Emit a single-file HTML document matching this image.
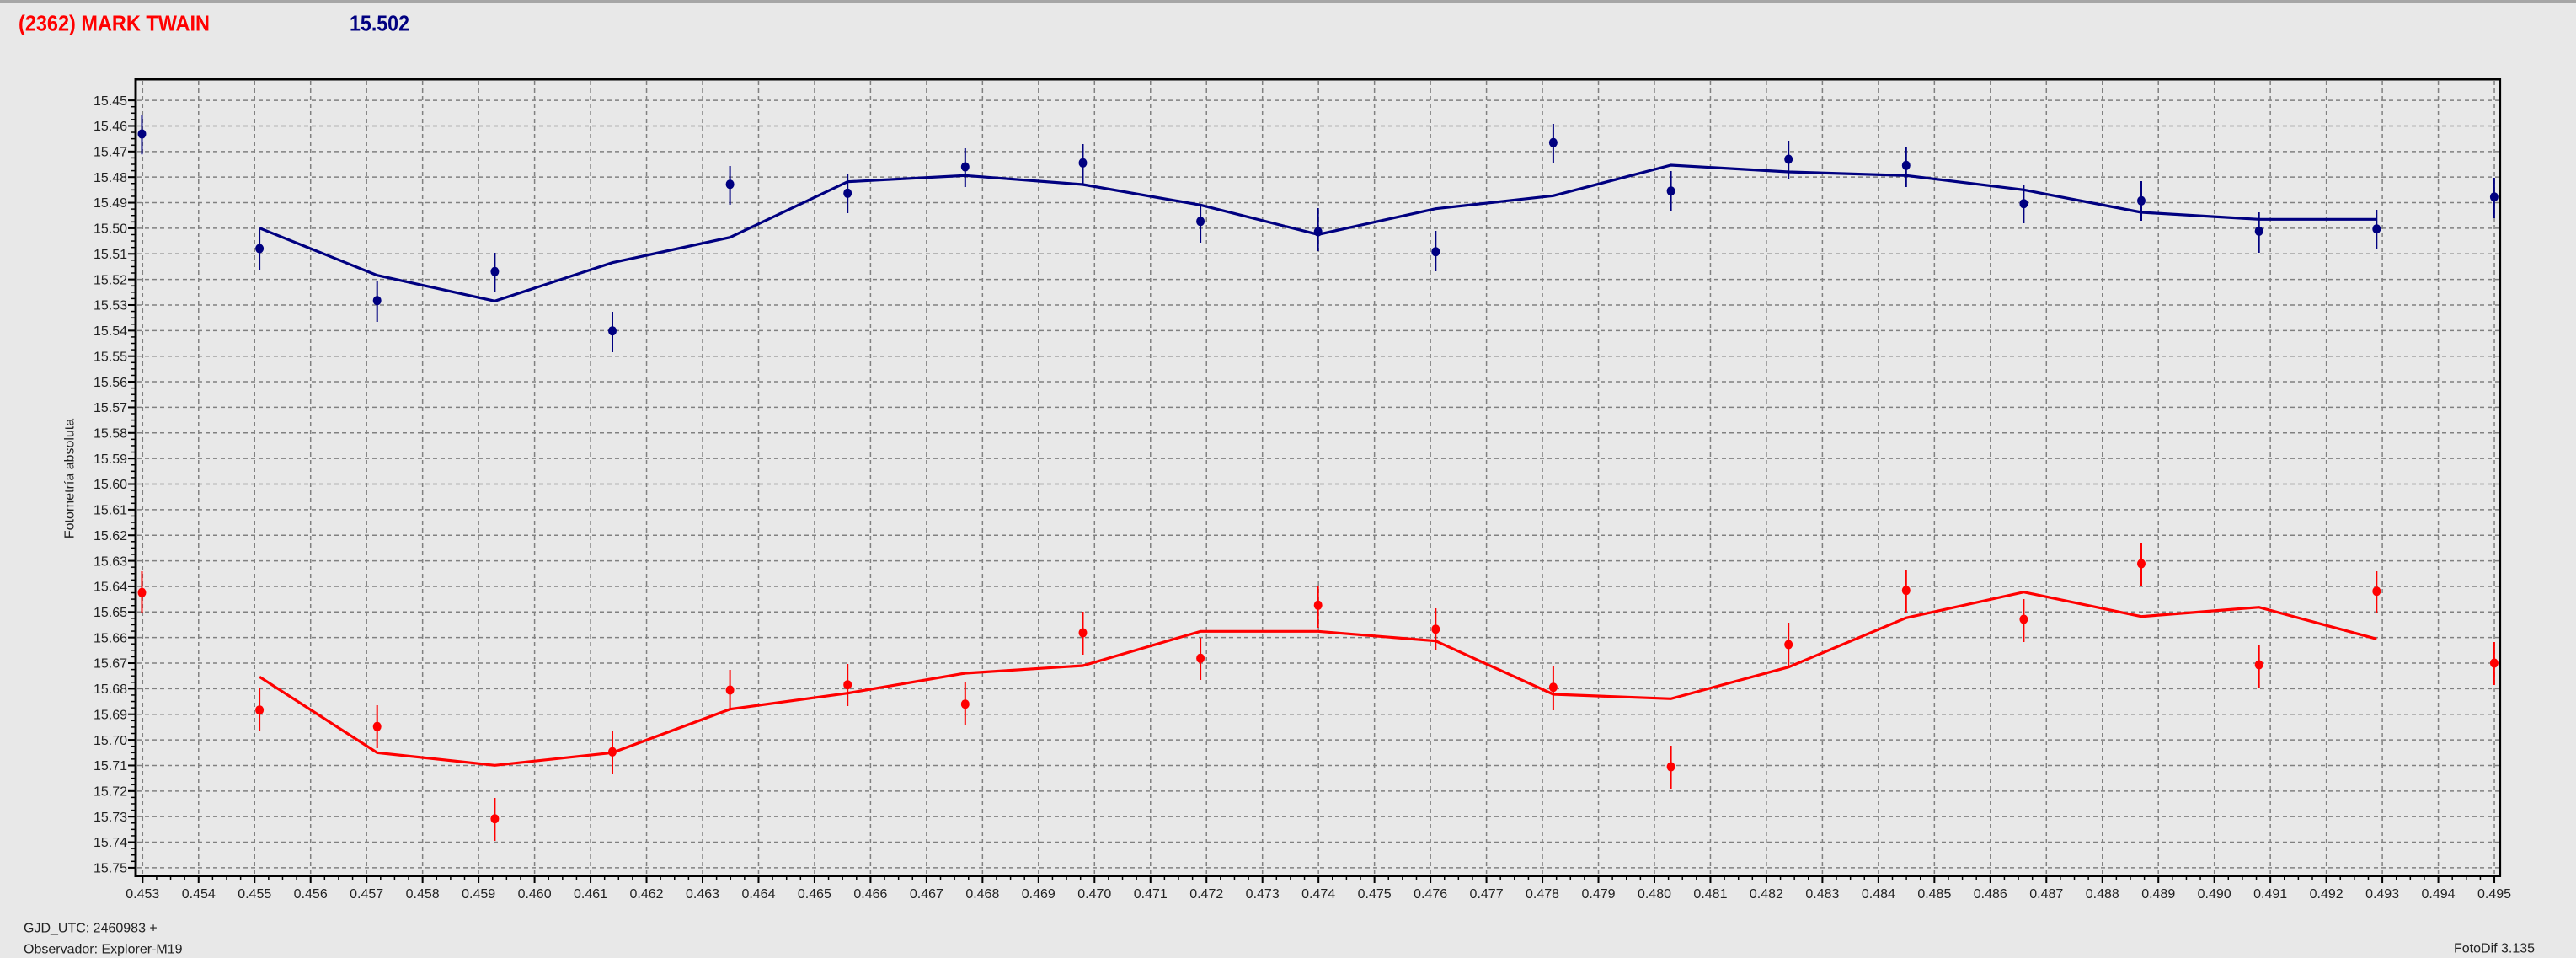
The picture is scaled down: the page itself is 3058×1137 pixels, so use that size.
<!DOCTYPE html>
<html><head><meta charset="utf-8"><style>
html,body{margin:0;padding:0;background:#e8e8e8;}
svg{display:block;}
text{font-family:"Liberation Sans",Arial,sans-serif;}
</style></head><body>
<svg width="3058" height="1137" viewBox="0 0 3058 1137" xmlns="http://www.w3.org/2000/svg">
<defs>
<pattern id="mx" patternUnits="userSpaceOnUse" x="168.55" y="0" width="16.6175" height="1137"><rect x="0" y="0" width="1.5" height="1137" fill="#000"/></pattern>
<pattern id="Mx" patternUnits="userSpaceOnUse" x="168.3" y="0" width="66.47" height="1137"><rect x="0" y="0" width="2" height="1137" fill="#000"/></pattern>
<pattern id="my" patternUnits="userSpaceOnUse" x="0" y="118.35" width="3058" height="7.59"><rect x="0" y="0" width="3058" height="1.5" fill="#000"/></pattern>
<pattern id="My" patternUnits="userSpaceOnUse" x="0" y="118.1" width="3058" height="30.36"><rect x="0" y="0" width="3058" height="2" fill="#000"/></pattern>
</defs>
<rect width="3058" height="1137" fill="#e8e8e8"/>
<rect x="0" y="0" width="3058" height="3" fill="#a6a6a6"/>

<!-- title -->
<text x="22" y="36.5" font-size="25.5" font-weight="bold" fill="#ff0000" textLength="227" lengthAdjust="spacingAndGlyphs">(2362) MARK TWAIN</text>
<text x="415" y="36.5" font-size="25.5" font-weight="bold" fill="#000080" textLength="71" lengthAdjust="spacingAndGlyphs">15.502</text>

<!-- gridlines -->
<path fill="none" stroke="#808080" stroke-width="1.5" stroke-dasharray="5 4" d="M163 119.1H2966M163 149.46H2966M163 179.82H2966M163 210.18H2966M163 240.54H2966M163 270.9H2966M163 301.26H2966M163 331.62H2966M163 361.98H2966M163 392.34H2966M163 422.7H2966M163 453.06H2966M163 483.42H2966M163 513.78H2966M163 544.14H2966M163 574.5H2966M163 604.86H2966M163 635.22H2966M163 665.58H2966M163 695.94H2966M163 726.3H2966M163 756.66H2966M163 787.02H2966M163 817.38H2966M163 847.74H2966M163 878.1H2966M163 908.46H2966M163 938.82H2966M163 969.18H2966M163 999.54H2966M163 1029.9H2966"/>
<path fill="none" stroke="#808080" stroke-width="1.5" stroke-dasharray="5 4" d="M169.3 96V1038M235.77 96V1038M302.24 96V1038M368.71 96V1038M435.18 96V1038M501.65 96V1038M568.12 96V1038M634.59 96V1038M701.06 96V1038M767.53 96V1038M834 96V1038M900.47 96V1038M966.94 96V1038M1033.41 96V1038M1099.88 96V1038M1166.35 96V1038M1232.82 96V1038M1299.29 96V1038M1365.76 96V1038M1432.23 96V1038M1498.7 96V1038M1565.17 96V1038M1631.64 96V1038M1698.11 96V1038M1764.58 96V1038M1831.05 96V1038M1897.52 96V1038M1963.99 96V1038M2030.46 96V1038M2096.93 96V1038M2163.4 96V1038M2229.87 96V1038M2296.34 96V1038M2362.81 96V1038M2429.28 96V1038M2495.75 96V1038M2562.22 96V1038M2628.69 96V1038M2695.16 96V1038M2761.63 96V1038M2828.1 96V1038M2894.57 96V1038M2961.04 96V1038"/>

<!-- ticks -->
<rect x="168" y="1041" width="2796" height="4" fill="url(#mx)"/>
<rect x="168" y="1041" width="2796" height="7" fill="url(#Mx)"/>
<rect x="155" y="118" width="5" height="914" fill="url(#my)"/>
<rect x="152" y="117" width="8" height="915" fill="url(#My)"/>

<!-- frame -->
<rect x="161" y="94.2" width="2806.8" height="945.3" fill="none" stroke="#000" stroke-width="2.6"/>
<rect x="159.6" y="93" width="2.8" height="948" fill="#000"/>
<rect x="159.6" y="1038.2" width="2809.4" height="2.8" fill="#000"/>

<!-- y labels -->
<g font-size="16" fill="#222" text-anchor="end">
<text x="151" y="124.8">15.45</text><text x="151" y="155.2">15.46</text><text x="151" y="185.5">15.47</text><text x="151" y="215.9">15.48</text><text x="151" y="246.2">15.49</text><text x="151" y="276.6">15.50</text><text x="151" y="307">15.51</text><text x="151" y="337.3">15.52</text><text x="151" y="367.7">15.53</text><text x="151" y="398">15.54</text><text x="151" y="428.4">15.55</text><text x="151" y="458.8">15.56</text><text x="151" y="489.1">15.57</text><text x="151" y="519.5">15.58</text><text x="151" y="549.8">15.59</text><text x="151" y="580.2">15.60</text><text x="151" y="610.6">15.61</text><text x="151" y="640.9">15.62</text><text x="151" y="671.3">15.63</text><text x="151" y="701.6">15.64</text><text x="151" y="732">15.65</text><text x="151" y="762.4">15.66</text><text x="151" y="792.7">15.67</text><text x="151" y="823.1">15.68</text><text x="151" y="853.4">15.69</text><text x="151" y="883.8">15.70</text><text x="151" y="914.2">15.71</text><text x="151" y="944.5">15.72</text><text x="151" y="974.9">15.73</text><text x="151" y="1005.2">15.74</text><text x="151" y="1035.6">15.75</text>
</g>

<!-- x labels -->
<g font-size="16" fill="#222" text-anchor="middle">
<text x="169.3" y="1066">0.453</text><text x="235.77" y="1066">0.454</text><text x="302.24" y="1066">0.455</text><text x="368.71" y="1066">0.456</text><text x="435.18" y="1066">0.457</text><text x="501.65" y="1066">0.458</text><text x="568.12" y="1066">0.459</text><text x="634.59" y="1066">0.460</text><text x="701.06" y="1066">0.461</text><text x="767.53" y="1066">0.462</text><text x="834" y="1066">0.463</text><text x="900.47" y="1066">0.464</text><text x="966.94" y="1066">0.465</text><text x="1033.41" y="1066">0.466</text><text x="1099.88" y="1066">0.467</text><text x="1166.35" y="1066">0.468</text><text x="1232.82" y="1066">0.469</text><text x="1299.29" y="1066">0.470</text><text x="1365.76" y="1066">0.471</text><text x="1432.23" y="1066">0.472</text><text x="1498.7" y="1066">0.473</text><text x="1565.17" y="1066">0.474</text><text x="1631.64" y="1066">0.475</text><text x="1698.11" y="1066">0.476</text><text x="1764.58" y="1066">0.477</text><text x="1831.05" y="1066">0.478</text><text x="1897.52" y="1066">0.479</text><text x="1963.99" y="1066">0.480</text><text x="2030.46" y="1066">0.481</text><text x="2096.93" y="1066">0.482</text><text x="2163.4" y="1066">0.483</text><text x="2229.87" y="1066">0.484</text><text x="2296.34" y="1066">0.485</text><text x="2362.81" y="1066">0.486</text><text x="2429.28" y="1066">0.487</text><text x="2495.75" y="1066">0.488</text><text x="2562.22" y="1066">0.489</text><text x="2628.69" y="1066">0.490</text><text x="2695.16" y="1066">0.491</text><text x="2761.63" y="1066">0.492</text><text x="2828.1" y="1066">0.493</text><text x="2894.57" y="1066">0.494</text><text x="2961.04" y="1066">0.495</text>
</g>

<!-- axis title -->
<text x="0" y="0" font-size="16" fill="#222" text-anchor="middle" transform="translate(87.5 568) rotate(-90)">Fotometría absoluta</text>

<!-- blue series -->
<polyline fill="none" stroke="#000080" stroke-width="3.2" stroke-linejoin="miter" points="308.1,270.7 447.7,326.7 587.4,357.3 727,311.7 866.6,281.7 1006.2,215.7 1145.8,208.3 1285.5,219 1425.1,243.3 1564.7,278.3 1704.3,247.7 1843.9,232.3 1983.6,196 2123.2,204 2262.8,208.3 2402.4,225.3 2542,252 2681.7,260.3 2821.3,260.3"/>
<path fill="none" stroke="#000080" stroke-width="2" d="M168.5 136.7V183.3M308.1 271V321M447.7 334V382M587.4 300V346M727 370V418M866.6 197V243M1006.2 206V253M1145.8 176V222M1285.5 171V219M1425.1 242V288M1564.7 247V298M1704.3 274V322M1843.9 147V193M1983.6 203V251M2123.2 167V213M2262.8 174V222M2402.4 219V265M2542 215V262M2681.7 252V300M2821.3 249V295M2960.9 211V259"/>
<g fill="#000080">
<ellipse cx="168.5" cy="159" rx="5" ry="5.5"/><ellipse cx="308.1" cy="295" rx="5" ry="5.5"/><ellipse cx="447.7" cy="356.7" rx="5" ry="5.5"/><ellipse cx="587.4" cy="322.3" rx="5" ry="5.5"/><ellipse cx="727" cy="392.7" rx="5" ry="5.5"/><ellipse cx="866.6" cy="218.7" rx="5" ry="5.5"/><ellipse cx="1006.2" cy="229.3" rx="5" ry="5.5"/><ellipse cx="1145.8" cy="198" rx="5" ry="5.5"/><ellipse cx="1285.5" cy="193.3" rx="5" ry="5.5"/><ellipse cx="1425.1" cy="262.7" rx="5" ry="5.5"/><ellipse cx="1564.7" cy="275" rx="5" ry="5.5"/><ellipse cx="1704.3" cy="298.7" rx="5" ry="5.5"/><ellipse cx="1843.9" cy="169.3" rx="5" ry="5.5"/><ellipse cx="1983.6" cy="226.7" rx="5" ry="5.5"/><ellipse cx="2123.2" cy="189" rx="5" ry="5.5"/><ellipse cx="2262.8" cy="196.3" rx="5" ry="5.5"/><ellipse cx="2402.4" cy="241.7" rx="5" ry="5.5"/><ellipse cx="2542" cy="238.3" rx="5" ry="5.5"/><ellipse cx="2681.7" cy="274.3" rx="5" ry="5.5"/><ellipse cx="2821.3" cy="271.7" rx="5" ry="5.5"/><ellipse cx="2960.9" cy="233.7" rx="5" ry="5.5"/>
</g>

<!-- red series -->
<polyline fill="none" stroke="#ff0000" stroke-width="3.2" stroke-linejoin="miter" points="308.1,803.3 447.7,893.3 587.4,908.3 727,893.3 866.6,841.7 1006.2,822.7 1145.8,799 1285.5,790 1425.1,749.3 1564.7,749.3 1704.3,760.7 1843.9,824 1983.6,829.3 2123.2,791.7 2262.8,733.3 2402.4,702.7 2542,731.7 2681.7,720.7 2821.3,758.3"/>
<path fill="none" stroke="#ff0000" stroke-width="2" d="M168.5 678V728M308.1 817V868M447.7 837V888M587.4 947V998M727 868V919M866.6 795V843M1006.2 788V838M1145.8 810V861M1285.5 726V777M1425.1 757V807M1564.7 695V745M1704.3 722V772M1843.9 791V843M1983.6 885V936M2123.2 739V790M2262.8 676V727M2402.4 711V762M2542 645V696M2681.7 765V816M2821.3 678V727M2960.9 762V813"/>
<g fill="#ff0000">
<ellipse cx="168.5" cy="703.3" rx="5" ry="5.5"/><ellipse cx="308.1" cy="842.7" rx="5" ry="5.5"/><ellipse cx="447.7" cy="862.3" rx="5" ry="5.5"/><ellipse cx="587.4" cy="971.7" rx="5" ry="5.5"/><ellipse cx="727" cy="892.3" rx="5" ry="5.5"/><ellipse cx="866.6" cy="819" rx="5" ry="5.5"/><ellipse cx="1006.2" cy="812.7" rx="5" ry="5.5"/><ellipse cx="1145.8" cy="835.7" rx="5" ry="5.5"/><ellipse cx="1285.5" cy="751" rx="5" ry="5.5"/><ellipse cx="1425.1" cy="781.3" rx="5" ry="5.5"/><ellipse cx="1564.7" cy="718.3" rx="5" ry="5.5"/><ellipse cx="1704.3" cy="746.7" rx="5" ry="5.5"/><ellipse cx="1843.9" cy="815.7" rx="5" ry="5.5"/><ellipse cx="1983.6" cy="910" rx="5" ry="5.5"/><ellipse cx="2123.2" cy="765" rx="5" ry="5.5"/><ellipse cx="2262.8" cy="700.7" rx="5" ry="5.5"/><ellipse cx="2402.4" cy="735" rx="5" ry="5.5"/><ellipse cx="2542" cy="669" rx="5" ry="5.5"/><ellipse cx="2681.7" cy="789" rx="5" ry="5.5"/><ellipse cx="2821.3" cy="701.7" rx="5" ry="5.5"/><ellipse cx="2960.9" cy="787" rx="5" ry="5.5"/>
</g>

<!-- footer -->
<g font-size="16" fill="#222">
<text x="28" y="1106.7">GJD_UTC: 2460983 +</text>
<text x="28" y="1131.4">Observador: Explorer-M19</text>
<text x="2913" y="1130.7">FotoDif 3.135</text>
</g>
</svg>
</body></html>
